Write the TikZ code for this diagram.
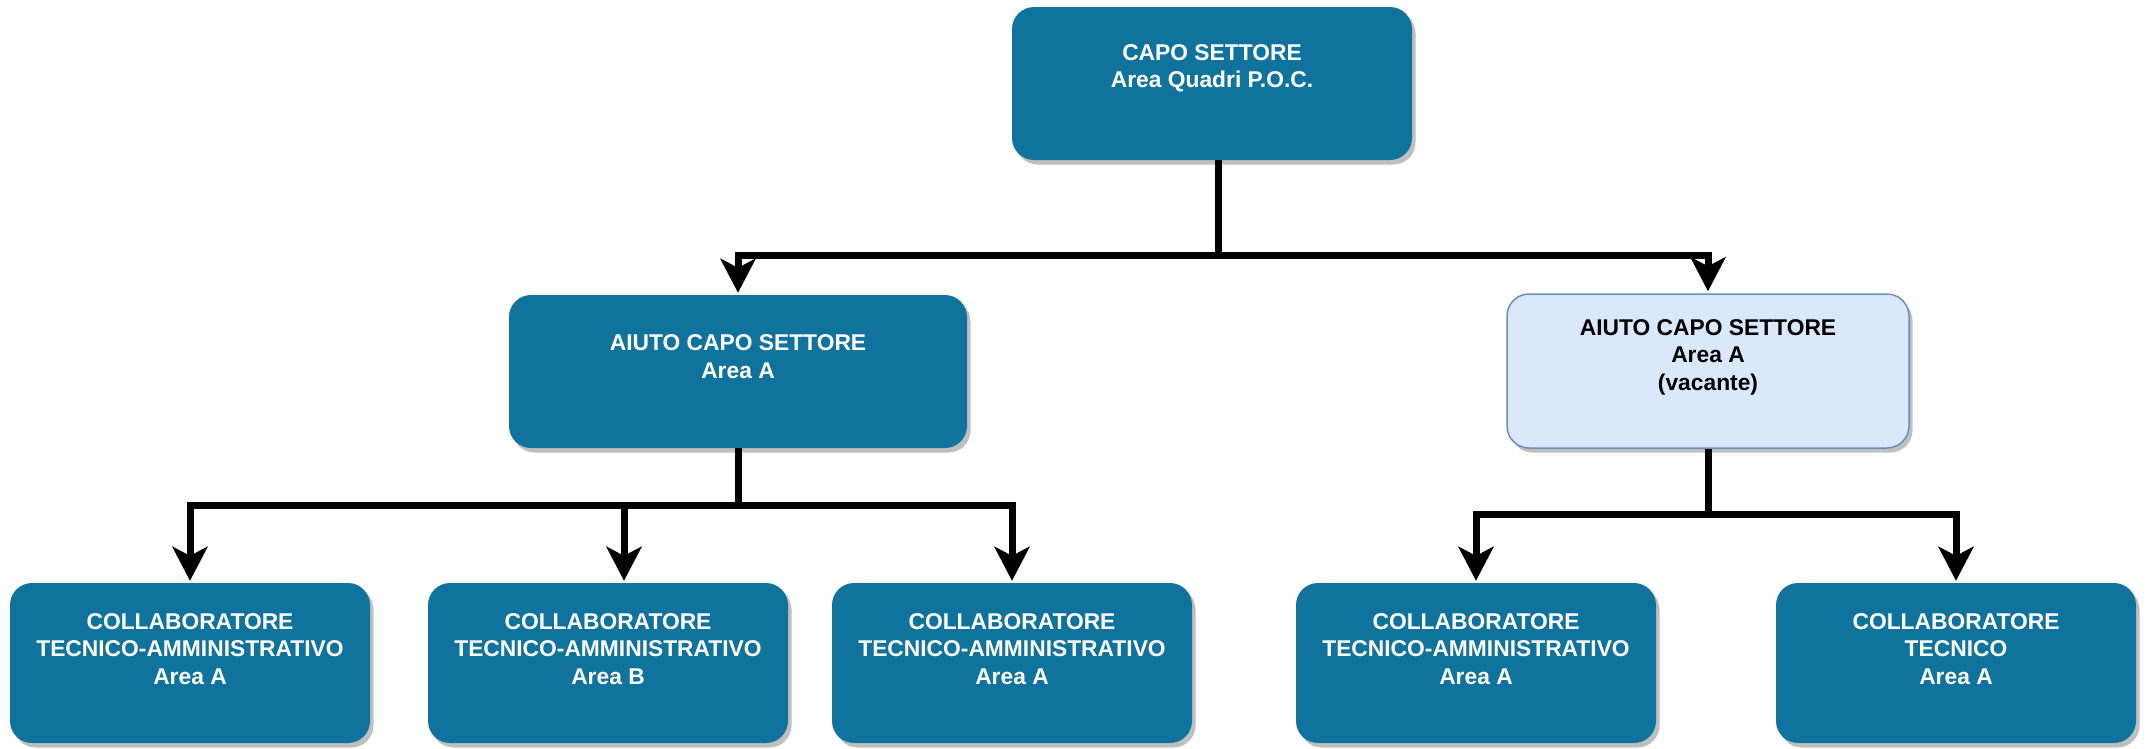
\documentclass[tikz,border=0pt]{standalone}
\usepackage{fontspec}
\setmainfont{Liberation Sans}
\usetikzlibrary{arrows.meta,shadows,calc}
\definecolor{dblue}{HTML}{10739E}
\definecolor{lblue}{HTML}{DAE8FC}
\definecolor{lborder}{HTML}{6C8EBF}
\tikzset{
  boxbase/.style={rounded corners=22pt, inner sep=0pt,
    drop shadow={shadow xshift=3.5pt, shadow yshift=-4.5pt, fill=black!25, opacity=1}},
  darkbox/.style={boxbase, fill=dblue, draw=none},
  lightbox/.style={boxbase, fill=lblue, draw=lborder, line width=1.5pt},
  boxtext/.style={font=\bfseries\fontsize{22.8}{27.4}\selectfont, align=center, inner sep=0pt, yshift=#1},
  conn/.style={line width=7pt, draw=black, -{Stealth[length=34pt,width=35pt,inset=9pt]}, shorten >=2pt},
  bus/.style={line width=7pt, draw=black},
}
\begin{document}
\begin{tikzpicture}[x=1pt,y=-1pt]
\useasboundingbox (0,0) rectangle (2147,748);

% top level
\node[darkbox, minimum width=400pt, minimum height=153pt,
  label={[name=topT, boxtext=15pt, text=white]center:{CAPO SETTORE\\Area Quadri P.O.C.}}]
  (top) at (1212,83.5) {};

% middle level
\node[darkbox, minimum width=458pt, minimum height=153pt,
  label={[name=mLT, boxtext=15pt, text=white]center:{AIUTO CAPO SETTORE\\Area A}}]
  (mL) at (738,371.5) {};
\node[lightbox, minimum width=402pt, minimum height=154pt,
  label={[name=mRT, boxtext=14pt, text=black]center:{AIUTO CAPO SETTORE\\Area A\\(vacante)}}]
  (mR) at (1708,371) {};

% bottom level
\node[darkbox, minimum width=360pt, minimum height=160pt,
  label={[name=b1T, boxtext=14pt, text=white]center:{COLLABORATORE\\TECNICO-AMMINISTRATIVO\\Area A}}]
  (b1) at (190,663) {};
\node[darkbox, minimum width=360pt, minimum height=160pt,
  label={[name=b2T, boxtext=14pt, text=white]center:{COLLABORATORE\\TECNICO-AMMINISTRATIVO\\Area B}}]
  (b2) at (608,663) {};
\node[darkbox, minimum width=360pt, minimum height=160pt,
  label={[name=b3T, boxtext=14pt, text=white]center:{COLLABORATORE\\TECNICO-AMMINISTRATIVO\\Area A}}]
  (b3) at (1012,663) {};
\node[darkbox, minimum width=360pt, minimum height=160pt,
  label={[name=b4T, boxtext=14pt, text=white]center:{COLLABORATORE\\TECNICO-AMMINISTRATIVO\\Area A}}]
  (b4) at (1476,663) {};
\node[darkbox, minimum width=360pt, minimum height=160pt,
  label={[name=b5T, boxtext=14pt, text=white]center:{COLLABORATORE\\TECNICO\\Area A}}]
  (b5) at (1956,663) {};

% connectors
\coordinate (j1) at (1218,255);
\draw[bus] (top.south -| j1) -- (j1);
\draw[conn] (j1) -| (mL.north);
\draw[conn] (j1) -| (mR.north);

\coordinate (j2) at ($(mL.south)+(0,57)$);
\draw[bus] (mL.south) -- (j2);
\draw[conn] (j2) -| (b1.north);
\draw[conn] (j2) -| ($(b2.north)+(16,0)$);
\draw[conn] (j2) -| (b3.north);

\coordinate (j3) at ($(mR.south)+(0,66)$);
\draw[bus] (mR.south) -- (j3);
\draw[conn] (j3) -| (b4.north);
\draw[conn] (j3) -| (b5.north);
\end{tikzpicture}
\end{document}
